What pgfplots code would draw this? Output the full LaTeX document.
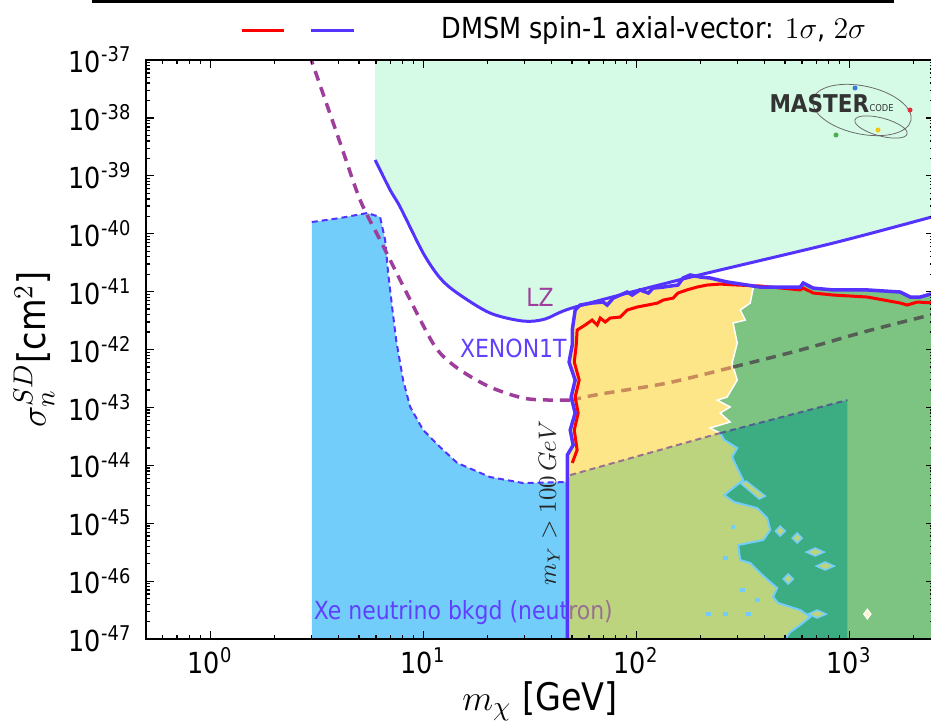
\documentclass[border=0pt]{standalone}
\usepackage[no-math]{fontspec}
\setmainfont{DejaVu Sans}[FakeStretch=0.88]
\usepackage{pgfplots}
\pgfplotsset{compat=1.18}

\definecolor{mint}{HTML}{D5FAE5}
\definecolor{nufill}{HTML}{73CDFA}
\definecolor{dmyellow}{HTML}{FDE687}
\definecolor{dmgreen}{HTML}{7DC382}
\definecolor{dmteal}{HTML}{3CAC82}
\definecolor{dmolive}{HTML}{BCD47D}
\definecolor{lzblue}{HTML}{5533FF}
\definecolor{xepurple}{HTML}{9E3D9B}
\definecolor{xebrown}{HTML}{C98A5C}
\definecolor{xegray}{HTML}{555F55}
\definecolor{nuline2}{HTML}{9A7090}
\definecolor{nuline3}{HTML}{4F5F8F}
\definecolor{labblue}{HTML}{6040FF}
\definecolor{logoblue}{HTML}{3A7BD5}
\definecolor{logored}{HTML}{E0303A}
\definecolor{logogreen}{HTML}{4CAF50}
\definecolor{logoyellow}{HTML}{F5C518}

\begin{document}
\begin{tikzpicture}
\begin{axis}[
  at={(0,0)}, anchor=south west,
  scale only axis, width=315.2pt, height=231.6pt,
  xmode=log, ymode=log, log basis x=10, log basis y=10,
  xmin=0.5, xmax=2500, ymin=1e-47, ymax=1e-37,
  xtick={1,10,100,1000},
  ytick={1e-47,1e-46,1e-45,1e-44,1e-43,1e-42,1e-41,1e-40,1e-39,1e-38,1e-37},
  minor xtick={0.5,0.6,0.7,0.8,0.9,2,3,4,5,6,7,8,9,20,30,40,50,60,70,80,90,
    200,300,400,500,600,700,800,900,2000},
  minor ytick={
    2e-47,3e-47,4e-47,5e-47,6e-47,7e-47,8e-47,9e-47,
    2e-46,3e-46,4e-46,5e-46,6e-46,7e-46,8e-46,9e-46,
    2e-45,3e-45,4e-45,5e-45,6e-45,7e-45,8e-45,9e-45,
    2e-44,3e-44,4e-44,5e-44,6e-44,7e-44,8e-44,9e-44,
    2e-43,3e-43,4e-43,5e-43,6e-43,7e-43,8e-43,9e-43,
    2e-42,3e-42,4e-42,5e-42,6e-42,7e-42,8e-42,9e-42,
    2e-41,3e-41,4e-41,5e-41,6e-41,7e-41,8e-41,9e-41,
    2e-40,3e-40,4e-40,5e-40,6e-40,7e-40,8e-40,9e-40,
    2e-39,3e-39,4e-39,5e-39,6e-39,7e-39,8e-39,9e-39,
    2e-38,3e-38,4e-38,5e-38,6e-38,7e-38,8e-38,9e-38},
  xticklabel={10\textsuperscript{\pgfmathprintnumber[assume math mode=true]{\tick}}},
  yticklabel={10\textsuperscript{\pgfmathprintnumber[assume math mode=true]{\tick}}},
  tick label style={font=\fontsize{11.6}{13}\selectfont},
  yticklabel style={xshift=-2.2pt},
  tick align=inside,
  major tick length=3.2pt, minor tick length=1.6pt,
  tick style={black, line width=0.5pt},
  axis line style={line width=0.8pt},
  axis on top,
  xlabel={$m_\chi$ [GeV]},
  ylabel={$\sigma_n^{SD}$[cm$^2$]},
  label style={font=\fontsize{15.2}{18}\selectfont},
  xlabel style={at={(axis description cs:0.5,-0.107)}, anchor=center},
  ylabel style={at={(axis description cs:-0.142,0.5)}, anchor=center},
]
% LZ excluded region
\addplot[fill=mint, draw=none] coordinates {
  (5.953,1e-36) (5.953,1.875e-39) (7.0,5.69e-40) (7.80,2.89e-40) (10,4.64e-41)
  (12.0,1.72e-41) (14.45,9.46e-42) (20.6,4.27e-42) (29.5,3.10e-42) (37.4,3.37e-42)
  (51.7,5.42e-42) (173,1.72e-41) (841,6.90e-41) (2505,2.0e-40) (2505,1e-36)} --cycle;
% Xe neutrino background
\addplot[fill=nufill, draw=none] coordinates {
  (3,1e-47) (3,1.59e-40) (4.08,1.87e-40) (5.46,2.28e-40) (6.28,1.94e-40) (6.63,7.78e-41)
  (6.85,2.09e-41) (7.15,5.42e-42) (7.47,1.46e-42) (8.05,2.97e-43) (8.69,1.02e-43)
  (10.0,4.07e-44) (12.0,2.07e-44) (14.45,1.10e-44) (20.6,6.28e-45) (29.5,4.94e-45)
  (48,5.15e-45) (48,1e-47)} --cycle;
% DMSM region, base green
\addplot[fill=dmgreen, draw=none] coordinates {
  (47.5,1e-47) (47.5,1.51e-44) (50.6,2.24e-44) (49.0,4.07e-44) (51.7,8.00e-44) (49.5,1.51e-43)
  (51.7,2.97e-43) (48.4,6.08e-43) (50.1,1.20e-42) (50.1,2.17e-42) (51.7,4.81e-42)
  (54.6,5.87e-42) (62.1,6.36e-42) (70.0,6.61e-42) (73.1,5.87e-42) (78.0,7.74e-42)
  (90.7,9.84e-42) (95.8,8.73e-42) (104,1.07e-41) (114,9.46e-42) (120,1.15e-41)
  (134,1.20e-41) (157,1.30e-41) (166,1.72e-41) (179,1.94e-41) (200,1.79e-41)
  (222,1.72e-41) (267,1.47e-41) (332,1.30e-41) (382,1.20e-41) (589,1.20e-41)
  (608,1.41e-41) (678,1.15e-41) (841,1.07e-41) (1216,1.07e-41) (1735,9.84e-42)
  (1932,8.07e-42) (2155,8.07e-42) (2505,9.46e-42) (2505,1e-47)} --cycle;
% below the neutrino floor
\addplot[fill=dmteal, draw=none] coordinates {
  (49,6.79e-45) (248,3.61e-44) (980,1.34e-43) (980,1e-47) (49,1e-47)} --cycle;
\addplot[fill=dmolive, draw=none] coordinates {
  (47.5,1e-47) (47.5,5.15e-45) (49,6.79e-45) (248,3.61e-44) (259,2.74e-44) (298,1.99e-44)
  (282,1.39e-44) (301,8.30e-45) (318,5.57e-45) (259,3.07e-45) (288,2.32e-45) (370,1.83e-45)
  (412,1.23e-45) (426,7.64e-46) (395,5.13e-46) (301,4.20e-46) (308,2.31e-46) (343,2.06e-46)
  (382,1.38e-46) (426,9.64e-47) (459,7.60e-47) (439,5.31e-47) (464,4.19e-47) (589,3.17e-47)
  (656,2.40e-47) (589,1.75e-47) (528,1.32e-47) (501,1e-47)} --cycle;
\addplot[nufill, line width=0.8pt] coordinates {
  (248,3.61e-44) (259,2.74e-44) (298,1.99e-44) (282,1.39e-44) (301,8.30e-45) (318,5.57e-45)
  (259,3.07e-45) (288,2.32e-45) (370,1.83e-45) (412,1.23e-45) (426,7.64e-46) (395,5.13e-46)
  (301,4.20e-46) (308,2.31e-46) (343,2.06e-46) (382,1.38e-46) (426,9.64e-47) (459,7.60e-47)
  (439,5.31e-47) (464,4.19e-47) (589,3.17e-47) (656,2.40e-47) (589,1.75e-47) (528,1.32e-47)
  (501,1e-47)};
% islands
\addplot[fill=dmolive, draw=nufill, line width=0.6pt] coordinates {(628,3.18e-46) (692,3.73e-46) (763,3.18e-46) (692,2.72e-46)} --cycle;
\addplot[fill=dmolive, draw=nufill, line width=0.6pt] coordinates {(700,1.82e-46) (771,2.14e-46) (851,1.82e-46) (771,1.56e-46)} --cycle;
\addplot[fill=dmolive, draw=nufill, line width=0.6pt] coordinates {(450,7.33e-46) (474,8.95e-46) (501,7.33e-46) (474,6.01e-46)} --cycle;
\addplot[fill=dmolive, draw=nufill, line width=0.6pt] coordinates {(540,5.55e-46) (570,6.78e-46) (601,5.55e-46) (570,4.55e-46)} --cycle;
\addplot[fill=dmolive, draw=nufill, line width=0.6pt] coordinates {(642,2.70e-47) (707,3.17e-47) (780,2.70e-47) (707,2.31e-47)} --cycle;
\addplot[fill=dmolive, draw=nufill, line width=0.6pt] coordinates {(490,1.09e-46) (517,1.33e-46) (546,1.09e-46) (517,8.91e-47)} --cycle;
\addplot[fill=dmolive, draw=nufill, line width=0.6pt] coordinates {(308,4.94e-45) (328,5.36e-45) (404,2.95e-45) (378,2.62e-45)} --cycle;
\addplot[only marks, mark=square*, mark size=0.7pt, nufill] coordinates {
  (218,2.70e-47) (262,2.70e-47) (336,2.70e-47) (285,8.59e-46) (262,2.51e-46) (370,4.72e-47) (315,7.01e-47)};
\addplot[only marks, mark=diamond*, mark size=2pt, draw=white, fill=dmyellow!40] coordinates {(1216,2.70e-47)};
% 1 sigma / 2 sigma yellow part
\addplot[fill=dmyellow, draw=none] coordinates {
  (47.5,5.15e-45) (47.5,1.51e-44) (50.6,2.24e-44) (49.0,4.07e-44) (51.7,8.00e-44) (49.5,1.51e-43)
  (51.7,2.97e-43) (48.4,6.08e-43) (50.1,1.20e-42) (50.1,2.17e-42) (51.7,4.81e-42)
  (54.6,5.87e-42) (62.1,6.36e-42) (70.0,6.61e-42) (78.0,7.74e-42) (90.7,9.84e-42)
  (104,1.07e-41) (120,1.15e-41) (134,1.20e-41) (157,1.30e-41) (166,1.72e-41) (179,1.94e-41)
  (200,1.79e-41) (222,1.72e-41) (267,1.47e-41) (332,1.30e-41) (354,1.15e-41) (343,6.36e-42)
  (308,4.81e-42) (325,3.23e-42) (285,2.87e-42) (298,1.29e-42) (282,5.85e-43) (298,2.97e-43)
  (267,1.51e-43) (240,1.34e-43) (276,1.02e-43) (248,8.00e-44) (276,5.60e-44) (222,4.41e-44)
  (248,3.61e-44) (49,6.79e-45)} --cycle;
\addplot[white, line width=0.6pt] coordinates {
  (354,1.15e-41) (343,6.36e-42) (308,4.81e-42) (325,3.23e-42) (285,2.87e-42) (298,1.29e-42)
  (282,5.85e-43) (298,2.97e-43) (267,1.51e-43) (240,1.34e-43) (276,1.02e-43) (248,8.00e-44)
  (276,5.60e-44) (222,4.41e-44) (248,3.61e-44)};
% neutrino floor boundary
\addplot[lzblue, line width=0.8pt, dash pattern=on 2.4pt off 1.6pt] coordinates {
  (3,1.59e-40) (4.08,1.87e-40) (5.46,2.28e-40) (6.28,1.94e-40) (6.63,7.78e-41)
  (6.85,2.09e-41) (7.15,5.42e-42) (7.47,1.46e-42) (8.05,2.97e-43) (8.69,1.02e-43)
  (10.0,4.07e-44) (12.0,2.07e-44) (14.45,1.10e-44) (20.6,6.28e-45) (29.5,4.94e-45) (48,5.15e-45)};
\addplot[nuline2, line width=0.8pt, dash pattern=on 2.4pt off 1.6pt] coordinates {(49,6.79e-45) (248,3.61e-44)};
\addplot[nuline3, line width=0.8pt, dash pattern=on 2.4pt off 1.6pt] coordinates {(248,3.61e-44) (980,1.34e-43)};
% XENON1T
\addplot[xepurple, line width=1.4pt, dash pattern=on 4pt off 2.8pt, smooth] coordinates {
  (2.93,1.22e-37) (4.08,3.68e-39) (5.06,3.82e-40) (6.28,7.78e-41) (7.80,1.585e-41)
  (10.44,1.93e-42) (12.0,8.71e-43) (14.9,4.43e-43) (20.6,2.25e-43) (29.5,1.45e-43)
  (39.4,1.34e-43) (49.5,1.34e-43)};
\addplot[xebrown, line width=1.4pt, dash pattern=on 4pt off 2.8pt, smooth] coordinates {
  (49.5,1.34e-43) (67.8,1.70e-43) (140,2.64e-43) (285,4.99e-43)};
\addplot[xegray, line width=1.4pt, dash pattern=on 4pt off 2.8pt, smooth] coordinates {
  (285,4.99e-43) (589,9.8e-43) (1216,2.09e-42) (2505,4.10e-42)};
% LZ
\addplot[lzblue, line width=1.2pt, smooth] coordinates {
  (5.953,1.875e-39) (7.0,5.69e-40) (7.80,2.89e-40) (10,4.64e-41) (12.0,1.72e-41)
  (14.45,9.46e-42) (20.6,4.27e-42) (29.5,3.10e-42) (37.4,3.37e-42) (51.7,5.42e-42)
  (173,1.72e-41) (841,6.90e-41) (2505,2.0e-40)};
% DMSM 1 sigma
\addplot[red, line width=1.2pt] coordinates {
  (50.1,1.10e-44) (52.8,1.84e-44) (51.2,4.07e-44) (53.4,8.00e-44) (51.7,1.51e-43) (54.0,2.97e-43)
  (51.2,6.08e-43) (52.3,1.20e-42) (52.8,2.17e-42) (57.6,2.65e-42) (62.1,3.23e-42) (65.6,2.65e-42)
  (67.8,3.50e-42) (71.5,2.99e-42) (75.5,3.50e-42) (84.1,3.64e-42) (90.7,4.81e-42) (101,5.42e-42)
  (113,5.87e-42) (126,6.36e-42) (134,7.16e-42) (149,7.74e-42) (157,9.46e-42) (173,1.07e-41)
  (193,1.20e-41) (215,1.30e-41) (248,1.35e-41) (298,1.30e-41) (382,1.25e-41) (589,1.07e-41)
  (608,1.15e-41) (678,9.46e-42) (841,8.73e-42) (1216,8.07e-42) (1735,6.36e-42) (1871,5.87e-42)
  (2085,6.61e-42) (2505,6.36e-42)};
% DMSM 2 sigma
\addplot[lzblue, line width=1.4pt] coordinates {
  (47.5,1e-47) (47.5,1.51e-44) (50.6,2.24e-44) (49.0,4.07e-44) (51.7,8.00e-44) (49.5,1.51e-43)
  (51.7,2.97e-43) (48.4,6.08e-43) (50.1,1.20e-42) (50.1,2.17e-42) (51.7,4.81e-42)
  (54.6,5.87e-42) (62.1,6.36e-42) (70.0,6.61e-42) (73.1,5.87e-42) (78.0,7.74e-42)
  (90.7,9.84e-42) (95.8,8.73e-42) (104,1.07e-41) (114,9.46e-42) (120,1.15e-41)
  (134,1.20e-41) (157,1.30e-41) (166,1.72e-41) (179,1.94e-41) (200,1.79e-41)
  (222,1.72e-41) (267,1.47e-41) (332,1.30e-41) (382,1.20e-41) (589,1.20e-41)
  (608,1.41e-41) (678,1.15e-41) (841,1.07e-41) (1216,1.07e-41) (1735,9.84e-42)
  (1932,8.07e-42) (2155,8.07e-42) (2505,9.46e-42)};
% labels
\node[text=xepurple, font=\fontsize{10}{12}\selectfont] at (axis cs:35.4,8.07e-42) {LZ};
\node[text=labblue, font=\fontsize{10}{12}\selectfont] at (axis cs:26.5,1.06e-42) {XENON1T};
\node[text=labblue, anchor=west, inner sep=0pt, font=\fontsize{10}{12}\selectfont]
  at (axis cs:3.05,2.92e-47) {Xe neutrino bkgd (neut\textcolor{nuline2}{ron)}};
\node[rotate=90, text=black!85, font=\fontsize{10}{12}\selectfont]
  at (axis cs:39.1,2.23e-45) {$m_Y > 100\,GeV$};
\end{axis}
\begin{scope}[shift={(-58.4pt,255.6pt)}, x=0.4pt, y=-0.4pt]
  \draw[line width=1.2pt] (92,2) -- (894,2);
  \draw[red, line width=1.2pt] (242,31) -- (284,31);
  \draw[lzblue, line width=1.2pt] (311,31) -- (354,31);
  \node[anchor=west, inner sep=0pt, font=\fontsize{11.6}{13}\selectfont]
    at (441,31) {DMSM spin-1 axial-vector: $1\sigma$, $2\sigma$};
  % logo
  \draw[black!60, line width=0.3pt, rotate around={-12:(862,110)}] (862,110) ellipse [x radius=50, y radius=24];
  \draw[black!60, line width=0.3pt, rotate around={-15:(881,127)}] (881,127) ellipse [x radius=27, y radius=9];
  \node[anchor=west, inner sep=0pt, text=black!80, font=\bfseries\fontsize{9.8}{10}\selectfont] at (769,104) {MASTER};
  \node[anchor=west, inner sep=0pt, text=black!80, font=\fontsize{3.8}{4}\selectfont] at (869,108) {CODE};
  \fill[logoblue] (855,88) circle (2.5);
  \fill[logored] (910,110) circle (2.5);
  \fill[logogreen] (836,135) circle (2.5);
  \fill[logoyellow] (878,130) circle (2.5);
  \coordinate (bbA) at (0,0);
  \coordinate (bbB) at (931,720);
\end{scope}
\pgfresetboundingbox
\path[use as bounding box] (bbA) rectangle (bbB);
\end{tikzpicture}
\end{document}
